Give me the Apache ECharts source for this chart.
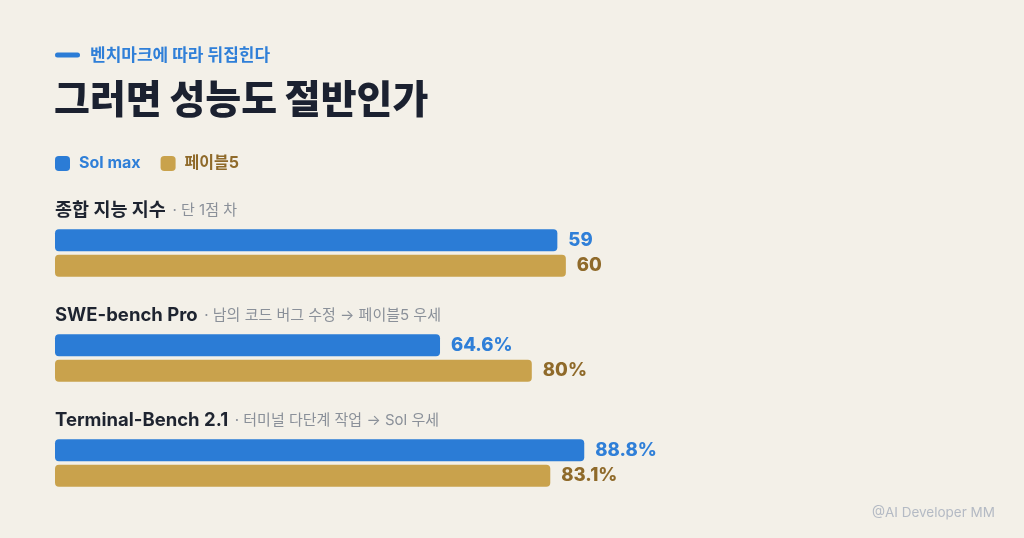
<!DOCTYPE html>
<html lang="ko">
<head>
<meta charset="UTF-8">
<title>그러면 성능도 절반인가</title>
<script src="https://cdn.jsdelivr.net/npm/echarts@6.0.0/dist/echarts.min.js"></script>
</head>
<body style="margin:0;background:#f3f0e8">
<div id="container" style="width:1024px;height:538px"></div>
<script>
// 데이터
var groups = ['종합 지능 지수', 'SWE-bench Pro', 'Terminal-Bench 2.1'];
var notes = ['· 단 1점 차', '· 남의 코드 버그 수정 → 페이블5 우세', '· 터미널 다단계 작업 → Sol 우세'];
var models = ['Sol max', '페이블5'];
var solValues = [59, 64.6, 88.8];
var pableValues = [60, 80, 83.1];
var units = ['', '%', '%'];
var axisMax = [70, 100, 100];

var FONT = 'Inter, "Noto Sans CJK KR", sans-serif';
var BLUE = '#2b7cd6', GOLD = '#c9a24c';
var BLUE_TXT = '#2f7fd8', GOLD_TXT = '#8f6a2a';

var chart = echarts.init(document.getElementById('container'));

var grids = [], xAxes = [], yAxes = [], series = [], graphics = [];
var groupTop = [227.5, 332.5, 437.5];

groups.forEach(function (g, i) {
    grids.push({ left: 55, top: groupTop[i], width: 596, height: 51 });
    xAxes.push({ type: 'value', gridIndex: i, min: 0, max: axisMax[i], show: false });
    yAxes.push({ type: 'category', gridIndex: i, data: models, inverse: true, show: false });
    [[solValues, BLUE, BLUE_TXT, 0], [pableValues, GOLD, GOLD_TXT, 1]].forEach(function (s) {
        var d = ['-', '-'];
        d[s[3]] = s[0][i];
        series.push({
            name: models[s[3]],
            type: 'bar',
            xAxisIndex: i,
            yAxisIndex: i,
            data: d,
            barWidth: 22,
            barGap: '-100%',
            itemStyle: { color: s[1], borderRadius: 4 },
            label: {
                show: true,
                position: 'right',
                distance: 11,
                fontFamily: FONT,
                fontSize: 18.5,
                fontWeight: 800,
                color: s[2],
                formatter: function (p) { return p.value + units[i]; }
            },
            silent: true,
            animation: false
        });
    });
    // 그룹 제목
    graphics.push({
        type: 'text',
        left: 55,
        top: groupTop[i] - 26.5,
        style: {
            text: '{b|' + g + '}  {n|' + notes[i] + '}',
            rich: {
                b: { fontFamily: FONT, fontSize: 18.5, fontWeight: 'bold', fill: '#1e2430' },
                n: { fontFamily: FONT, fontSize: 15, fill: '#8a9099' }
            }
        }
    });
});

graphics.push(
    { type: 'rect', left: 55, top: 52.5, shape: { width: 25, height: 5, r: 2.5 }, style: { fill: BLUE } },
    {
        type: 'text', left: 90, top: 47,
        style: { text: '벤치마크에 따라 뒤집힌다', fontFamily: FONT, fontSize: 17, fontWeight: 'bold', fill: BLUE_TXT }
    },
    {
        type: 'text', left: 54, top: 82,
        style: { text: '그러면 성능도 절반인가', fontFamily: FONT, fontSize: 39, fontWeight: 900, fill: '#1b2130' }
    },
    {
        type: 'text', right: 29, top: 506,
        style: { text: '@AI Developer MM', fontFamily: FONT, fontSize: 13.5, fill: '#b4bac4' }
    }
);

var option = {
    backgroundColor: '#f3f0e8',
    legend: {
        left: 55,
        top: 155.5,
        padding: 0,
        itemWidth: 15,
        itemHeight: 15,
        itemGap: 20,
        icon: 'roundRect',
        selectedMode: false,
        data: [
            { name: 'Sol max', itemStyle: { color: BLUE }, textStyle: { color: BLUE_TXT } },
            { name: '페이블5', itemStyle: { color: GOLD }, textStyle: { color: GOLD_TXT } }
        ],
        textStyle: { fontFamily: FONT, fontSize: 16, fontWeight: 'bold', padding: [0, 0, 0, 4] }
    },
    grid: grids,
    xAxis: xAxes,
    yAxis: yAxes,
    series: series,
    graphic: graphics
};
chart.setOption(option);
</script>
</body>
</html>
